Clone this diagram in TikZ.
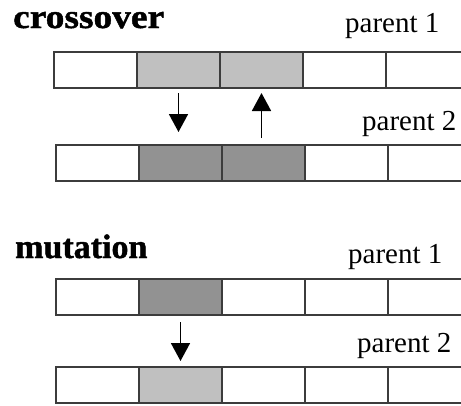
\documentclass[tikz,border=0pt]{standalone}
\usepackage{fontspec}
\setmainfont{Liberation Serif}
\newfontfamily\titlefont[FakeBold=1.2]{Liberation Serif Bold}
\usetikzlibrary{arrows.meta}
\definecolor{lightcell}{RGB}{192,192,192}
\definecolor{darkcell}{RGB}{146,146,146}
\definecolor{edgecol}{RGB}{60,60,60}
\tikzset{
  cell/.style={draw=edgecol, line width=1.6pt, minimum width=83pt, minimum height=36pt,
    inner sep=0pt, outer sep=0pt, anchor=north west, fill=white},
  light/.style={fill=lightcell},
  dark/.style={fill=darkcell},
  arr/.style={draw=black, line width=1.8pt, -{Triangle[width=19pt,length=18pt]}},
  title/.style={anchor=base west, inner sep=0pt, font=\fontsize{34}{40}\titlefont},
  plabel/.style={anchor=base west, inner sep=0pt, font=\fontsize{29}{34}\selectfont},
}
\begin{document}
\begin{tikzpicture}[x=1pt,y=-1pt]
\useasboundingbox (0,0) rectangle (461,405);
\clip (0,0) rectangle (461,405);
\fill[white] (0,0) rectangle (461,405);
% texts
\node[title] (tc) at (13,28) {\scalebox{1.1}[1]{crossover}};
\node[plabel] (p1a) at (345,32) {parent 1};
\node[plabel] (p2a) at (362,130) {parent 2};
\node[title] (tm) at (15,258) {mutation};
\node[plabel] (p1b) at (348,263) {parent 1};
\node[plabel] (p2b) at (357,352) {parent 2};
% row 1
\node[cell] (a1) at (54,52) {};
\node[cell,light] (a2) at (137,52) {};
\node[cell,light] (a3) at (220,52) {};
\node[cell] (a4) at (303,52) {};
\node[cell] (a5) at (386,52) {};
% row 2
\node[cell] (b1) at (56,145) {};
\node[cell,dark] (b2) at (139,145) {};
\node[cell,dark] (b3) at (222,145) {};
\node[cell] (b4) at (305,145) {};
\node[cell] (b5) at (388,145) {};
% row 3
\node[cell] (c1) at (56,279) {};
\node[cell,dark] (c2) at (139,279) {};
\node[cell] (c3) at (222,279) {};
\node[cell] (c4) at (305,279) {};
\node[cell] (c5) at (388,279) {};
% row 4
\node[cell] (d1) at (56,367) {};
\node[cell,light] (d2) at (139,367) {};
\node[cell] (d3) at (222,367) {};
\node[cell] (d4) at (305,367) {};
\node[cell] (d5) at (388,367) {};
% arrows
\draw[arr, shorten <=5pt, shorten >=13pt] (a2.south) -- (a2.south |- b2.north);
\draw[arr, shorten <=7pt, shorten >=5pt] (a3.south |- b3.north) -- (a3.south);
\draw[arr, shorten <=7pt, shorten >=6pt] (c2.south) -- (c2.south |- d2.north);
\end{tikzpicture}
\end{document}
